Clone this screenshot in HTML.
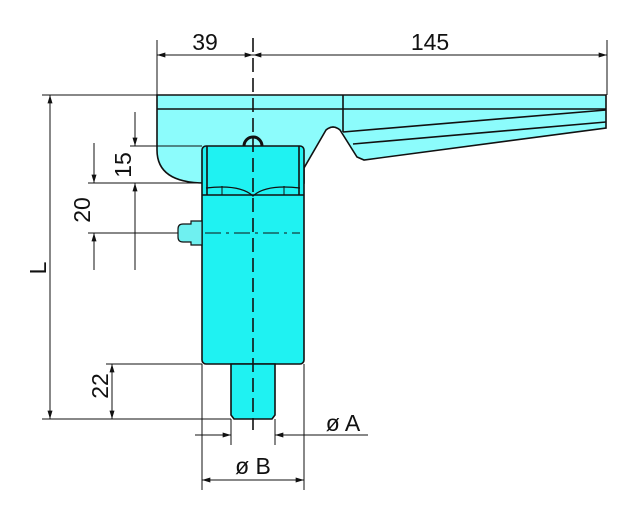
<!DOCTYPE html>
<html><head><style>html,body{margin:0;padding:0;background:#fff}svg{display:block}text{font-family:"Liberation Sans",sans-serif;fill:#111}</style></head>
<body>
<svg width="640" height="523" viewBox="0 0 640 523" xmlns="http://www.w3.org/2000/svg">
<defs>
<marker id="a" viewBox="0 0 10 6" refX="10" refY="3" markerWidth="13" markerHeight="5" orient="auto-start-reverse" markerUnits="userSpaceOnUse"><path d="M0,0 L10,3 L0,6z" fill="#111"/></marker>
</defs>
<g stroke="#111" fill="none" stroke-width="1.6">
<path d="M157,95 L606,95 L606,128 L364,160 L357,157 L340,130 Q333,124 326,130 L304,168 L304,183 L205,183 Q157,183 157,150 Z" fill="#8cfcfc"/>
<line x1="157" y1="109" x2="606" y2="109"/>
<line x1="343" y1="95" x2="343" y2="132"/>
<line x1="343" y1="132" x2="606" y2="110"/>
<line x1="353" y1="144" x2="606" y2="122"/>
<rect x="202" y="146" width="102" height="218" rx="4" fill="#1ff2f2"/>
<line x1="202" y1="195" x2="304" y2="195"/>
<line x1="207" y1="146" x2="207" y2="195"/>
<line x1="299" y1="146" x2="299" y2="195"/>
<path d="M206,188 Q240,184 253,196 Q266,184 300,188" stroke-width="1.2"/>
<line x1="222" y1="186" x2="222" y2="195" stroke-width="1"/>
<line x1="284" y1="186" x2="284" y2="195" stroke-width="1"/>
<path d="M244,146 A9,9 0 0 1 262,146" stroke-width="3"/>
<path d="M178,229 q0,-5 5,-5 h8 v-3 h11 v24 h-11 v-3 h-8 q-5,0 -5,-5 z" fill="#6ff0f0" stroke-width="1.2"/>
<path d="M231,364 V415 L234,419 H272 L275,415 V364 Z" fill="#1ff2f2"/>
</g>
<g stroke="#111" stroke-width="1">
<line x1="253" y1="38" x2="253" y2="430" stroke-dasharray="14,6" stroke-width="1.6"/>
<line x1="205" y1="233" x2="300" y2="233" stroke-dasharray="16,5,3,5"/>
<line x1="157" y1="40" x2="157" y2="95"/>
<line x1="607" y1="40" x2="607" y2="95"/>
<line x1="157" y1="55" x2="253" y2="55" marker-start="url(#a)" marker-end="url(#a)"/>
<line x1="253" y1="55" x2="607" y2="55" marker-start="url(#a)" marker-end="url(#a)"/>
<line x1="42" y1="95" x2="157" y2="95"/>
<line x1="42" y1="419" x2="231" y2="419"/>
<line x1="50" y1="95" x2="50" y2="419" marker-start="url(#a)" marker-end="url(#a)"/>
<line x1="130" y1="146" x2="202" y2="146"/>
<line x1="130" y1="183" x2="202" y2="183"/>
<line x1="135" y1="112" x2="135" y2="146" marker-end="url(#a)"/>
<line x1="135" y1="183" x2="135" y2="270"/>
<line x1="135" y1="200" x2="135" y2="183" marker-end="url(#a)"/>
<line x1="88" y1="183" x2="130" y2="183"/>
<line x1="88" y1="233" x2="178" y2="233"/>
<line x1="94" y1="143" x2="94" y2="183" marker-end="url(#a)"/>
<line x1="94" y1="270" x2="94" y2="233" marker-end="url(#a)"/>
<line x1="106" y1="364" x2="202" y2="364"/>
<line x1="112" y1="364" x2="112" y2="419" marker-start="url(#a)" marker-end="url(#a)"/>
<line x1="202" y1="364" x2="202" y2="490"/>
<line x1="304" y1="364" x2="304" y2="490"/>
<line x1="231" y1="419" x2="231" y2="445"/>
<line x1="275" y1="419" x2="275" y2="445"/>
<line x1="195" y1="435" x2="231" y2="435" marker-end="url(#a)"/>
<line x1="368" y1="435" x2="275" y2="435" marker-end="url(#a)"/>
<line x1="202" y1="480" x2="304" y2="480" marker-start="url(#a)" marker-end="url(#a)"/>
</g>
<g font-size="23">
<text x="205" y="50" text-anchor="middle">39</text>
<text x="430" y="50" text-anchor="middle">145</text>
<text x="46" y="268" transform="rotate(-90 46 268)" text-anchor="middle">L</text>
<text x="131" y="165" transform="rotate(-90 131 165)" text-anchor="middle">15</text>
<text x="90" y="210" transform="rotate(-90 90 210)" text-anchor="middle">20</text>
<text x="108" y="386" transform="rotate(-90 108 386)" text-anchor="middle">22</text>
<text x="343" y="431" text-anchor="middle">ø A</text>
<text x="253" y="474" text-anchor="middle">ø B</text>
</g>
</svg>
</body></html>
